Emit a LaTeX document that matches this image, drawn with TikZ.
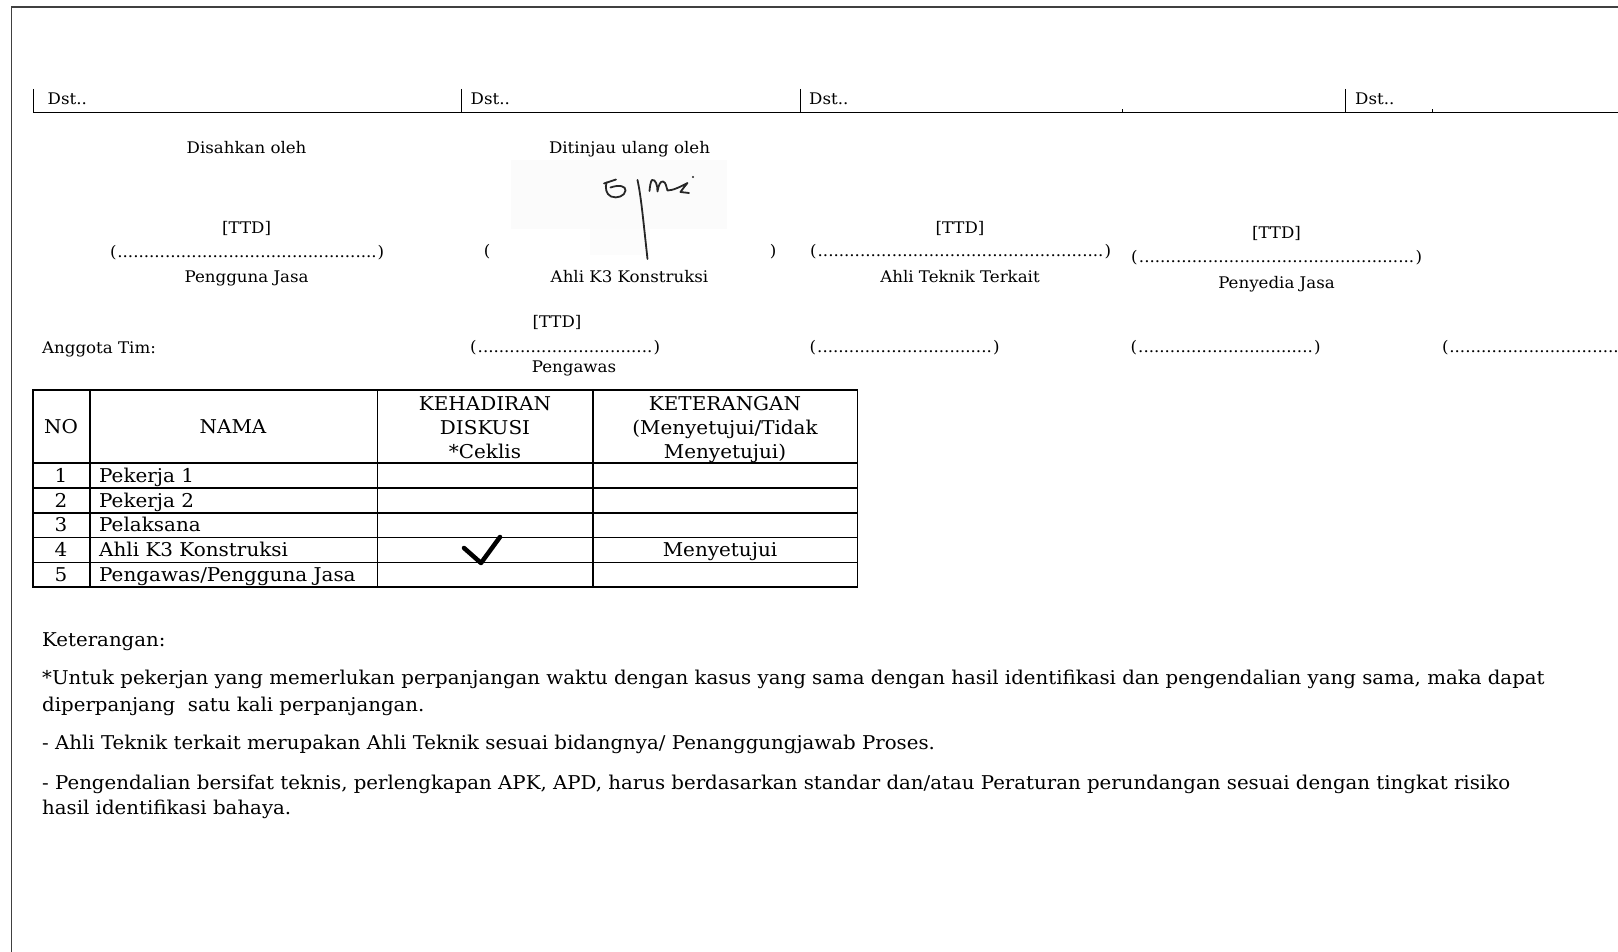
\documentclass[tikz,border=0pt]{standalone}
\usepackage{fontspec}
\setmainfont{DejaVu Serif}
\newfontfamily\sigfont[FakeStretch=1.04]{DejaVu Serif}
\newfontfamily\cellfont[FakeStretch=1.05]{DejaVu Serif}
\newfontfamily\notefont[FakeStretch=1.04]{DejaVu Serif}
% bracketed line of tight dots of a given width
\newcommand\dotslot[1]{\makebox[#1]{(\cleaders\hbox{.}\hfill)}}
\begin{document}
\begin{tikzpicture}[x=1pt,y=-1pt,
  sig/.style={font=\sigfont\fontsize{16}{19}\selectfont, anchor=base, inner sep=0pt},
  cell/.style={font=\cellfont\fontsize{19}{23}\selectfont, anchor=base, inner sep=0pt},
  note/.style={font=\notefont\fontsize{19}{26}\selectfont, anchor=base west, inner sep=0pt},
  frame/.style={line width=1.6pt, draw=black!75},
  grid/.style={line width=1.1pt},
  thin/.style={line width=0.8pt},
  pen/.style={line width=1.8pt, black!85, line cap=round, line join=round}]
\clip (0,0) rectangle (1618,952);
\fill[white] (0,0) rectangle (1618,952);

% page frame
\draw[frame] (11.5,952) -- (11.5,7) -- (1618,7);

% "Dst.." header row
\draw[line width=1.5pt] (33,112.5) -- (1618,112.5);
\foreach \x in {33,461,800,1345} \draw[thin] (\x,89) -- (\x,112.5);
\foreach \x in {1122,1432} \draw[thin] (\x,109.5) -- (\x,112.5);
\node[sig, anchor=base west] (d1) at (47.5,105) {Dst..};
\node[sig, anchor=base west] (d2) at (470.5,105) {Dst..};
\node[sig, anchor=base west] (d3) at (809,105) {Dst..};
\node[sig, anchor=base west] (d4) at (1355,105) {Dst..};

% signature blocks
\node[sig] (sah) at (246.6,154) {Disahkan oleh};
\node[sig] (tinjau) at (629.5,154) {Ditinjau ulang oleh};

\node[sig] (ttd1) at (246.6,233.5) {[TTD]};
\node[sig] (dot1) at (247,258) {\dotslot{274pt}};
\node[sig] (role1) at (246.6,282.5) {Pengguna Jasa};

% scanned signature
\fill[black!1.5] (511,160) rectangle (727,229);
\fill[black!1] (590,229) rectangle (650,255);
\draw[pen] (604,183.5) -- (616,179.5);
\draw[pen] (606.5,182.5) .. controls (605,188) and (606,194) .. (611,196.5)
  .. controls (617,199) and (625,196) .. (625.5,190.5)
  .. controls (626,186) and (619,184.5) .. (610.5,187.5);
\draw[pen] (637.5,180) .. controls (641,196) and (643,218) .. (647.5,259);
\draw[pen] (649.5,191) .. controls (650,186) and (650.5,182) .. (652,180)
  .. controls (655.5,179) and (657.5,185) .. (657.5,191.5)
  .. controls (658.5,185) and (660.5,181) .. (663,181.5)
  .. controls (666,182) and (666.5,188) .. (667.5,190.5)
  .. controls (673,190.5) and (681,186.5) .. (687.5,183)
  .. controls (684,187) and (682,190) .. (680.5,192) -- (689,193);
\fill[black!85] (693,177) circle (1.2pt);

\node[sig] (lp) at (487,257) {(};
\node[sig] (rp) at (773,257) {)};
\node[sig] (role2) at (629.5,282.5) {Ahli K3 Konstruksi};

\node[sig] (ttd3) at (960,233.5) {[TTD]};
\node[sig] (dot3) at (960.5,257) {\dotslot{301pt}};
\node[sig] (role3) at (960,282.5) {Ahli Teknik Terkait};

\node[sig] (ttd4) at (1276.5,238.5) {[TTD]};
\node[sig] (dot4) at (1276.5,262) {\dotslot{291pt}};
\node[sig] (role4) at (1276.5,288) {Penyedia Jasa};

% team members
\node[sig, anchor=base west] (tim) at (42,353) {Anggota Tim:};
\node[sig] (ttd5) at (557,327) {[TTD]};
\node[sig] (dot5) at (565,352) {\dotslot{190pt}};
\node[sig] (role5) at (574,372) {Pengawas};
\node[sig] (dot6) at (904.5,352) {\dotslot{190pt}};
\node[sig] (dot7) at (1225.5,352) {\dotslot{190pt}};
\node[sig, anchor=base west] (dot8) at (1442,352) {\dotslot{300pt}};

% attendance table
\draw[grid] (33,390) rectangle (857.5,587);
\foreach \x in {90,377.7,593} \draw[grid] (\x,390) -- (\x,587);
\foreach \y in {463,488,513,537.6,562.4} \draw[grid] (33,\y) -- (857.5,\y);

\node[cell] (hno) at (61,433.5) {NO};
\node[cell] (hnama) at (233,433.5) {NAMA};
\node[cell] (hk1) at (485,410.5) {KEHADIRAN};
\node[cell] (hk2) at (485,434) {DISKUSI};
\node[cell] (hk3) at (485,458.5) {*Ceklis};
\node[cell] (hx1) at (725,410.5) {KETERANGAN};
\node[cell] (hx2) at (725,434) {(Menyetujui/Tidak};
\node[cell] (hx3) at (725,458.5) {Menyetujui)};

\foreach \n/\y/\t in {1/482.5/Pekerja 1, 2/507/Pekerja 2, 3/531.5/Pelaksana,
                      4/556.5/Ahli K3 Konstruksi} {
  \node[cell] (no\n) at (61,\y) {\n};
  \node[cell, anchor=base west] (nm\n) at (99,\y) {\t};
}
\node[cell] (no5) at (61,581.5) {5};
\node[cell, anchor=base west] (nm5) at (99,581.5) {Pengawas/Pengguna Jasa};
\node[cell] (ket4) at (720,556.5) {Menyetujui};
\draw[line width=4.5pt, line cap=round, line join=round] (464,548) -- (481,563) -- (500,537);

% notes
\node[note] (k0) at (42,646.5) {Keterangan:};
\node[note] (k1) at (42,684.5) {*Untuk pekerjan yang memerlukan perpanjangan waktu dengan kasus yang sama dengan hasil identifikasi dan pengendalian yang sama, maka dapat};
\node[note] (k2) at (42,711.5) {diperpanjang\ \ satu kali perpanjangan.};
\node[note] (k3) at (42,749.5) {- Ahli Teknik terkait merupakan Ahli Teknik sesuai bidangnya/ Penanggungjawab Proses.};
\node[note] (k4) at (42,789.5) {- Pengendalian bersifat teknis, perlengkapan APK, APD, harus berdasarkan standar dan/atau Peraturan perundangan sesuai dengan tingkat risiko};
\node[note] (k5) at (42,814.5) {hasil identifikasi bahaya.};
\end{tikzpicture}
\end{document}
